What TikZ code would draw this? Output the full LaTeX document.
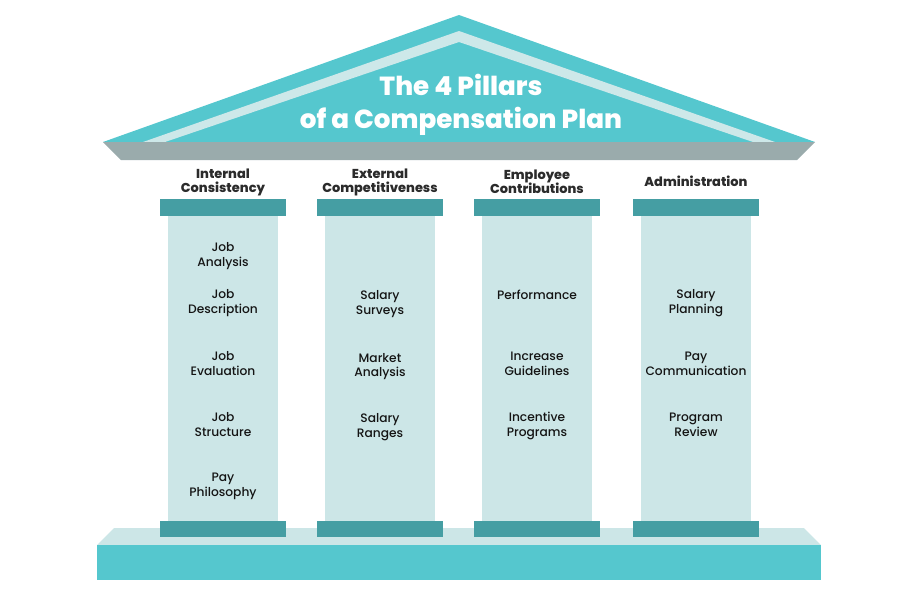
\documentclass[tikz,border=0pt]{standalone}
\usepackage{fontspec}
\setmainfont{Poppins}
\newfontfamily\pmed{Poppins Medium}
\newfontfamily\pxb{Poppins ExtraBold}
\definecolor{roofc}{HTML}{55C7CE}
\definecolor{stripec}{HTML}{CDE8E9}
\definecolor{beamc}{HTML}{9AABAC}
\definecolor{capc}{HTML}{459EA3}
\definecolor{shaftc}{HTML}{CCE6E7}
\definecolor{headc}{HTML}{2B2B2B}
\definecolor{itemc}{HTML}{141414}
\begin{document}
\begin{tikzpicture}[x=0.025cm, y=-0.025cm, line join=round,
  title/.style={font=\pxb\fontsize{18.6}{23.4}\selectfont, text=white, align=center},
  head/.style={font=\pxb\fontsize{9.2}{10}\selectfont, text=headc, align=center},
  item/.style={font=\pmed\fontsize{8.7}{10.6}\selectfont, text=itemc, align=center}]
\def\capw{63} \def\shw{55} % demi-largeurs
\def\ytop{199} \def\ycap{216} \def\ybot{521} \def\yfoot{537}
\useasboundingbox (0,0) rectangle (900,600);
% fronton
\fill[roofc] (103,142) -- (459,15) -- (815,142) -- cycle;
\fill[stripec] (143,142) -- (459,31) -- (775,142) -- (753,142) -- (459,42) -- (165,142) -- cycle;
\fill[beamc] (103,142) -- (815,142) -- (797,160) -- (121,160) -- cycle;
\node[title] (title) at (461,104.5) {The 4 Pillars\\of a Compensation Plan};
% socle
\fill[shaftc] (114,528) -- (804,528) -- (821,545) -- (97,545) -- cycle;
\fill[roofc] (97,545) rectangle (821,580);
% colonnes
\foreach \cx in {223,380,537,696}{
  \fill[shaftc] (\cx-\shw,\ycap) rectangle (\cx+\shw,\ybot);
  \fill[capc] (\cx-\capw,\ytop) rectangle (\cx+\capw,\ycap);
  \fill[capc] (\cx-\capw,\ybot) rectangle (\cx+\capw,\yfoot);
}
% titres
\node[head] (h1) at (223,182) {Internal\\Consistency};
\node[head] (h2) at (380,182) {External\\Competitiveness};
\node[head] (h3) at (537,182) {Employee\\Contributions};
\node[head] (h4) at (696,181) {Administration};
% colonne 1
\node[item] (ja) at (223,256.5) {Job\\Analysis};
\node[item] (jd) at (223,303.5) {Job\\Description};
\node[item] (je) at (223,363.5) {Job\\Evaluation};
\node[item] (js) at (223,424.5) {Job\\Structure};
\node[item] (pp) at (223,486.5) {Pay\\Philosophy};
% colonne 2
\node[item] (ss) at (380,304.5) {Salary\\Surveys};
\node[item] (ma) at (380,366.5) {Market\\Analysis};
\node[item] (sr) at (380,427.5) {Salary\\Ranges};
% colonne 3
\node[item] (pf) at (537,295) {Performance};
\node[item] (ig) at (537,363.5) {Increase\\Guidelines};
\node[item] (ip) at (537,425.5) {Incentive\\Programs};
% colonne 4
\node[item] (sp) at (696,303.5) {Salary\\Planning};
\node[item] (pc) at (696,363.5) {Pay\\Communication};
\node[item] (pr) at (696,424.5) {Program\\Review};
\end{tikzpicture}
\end{document}
